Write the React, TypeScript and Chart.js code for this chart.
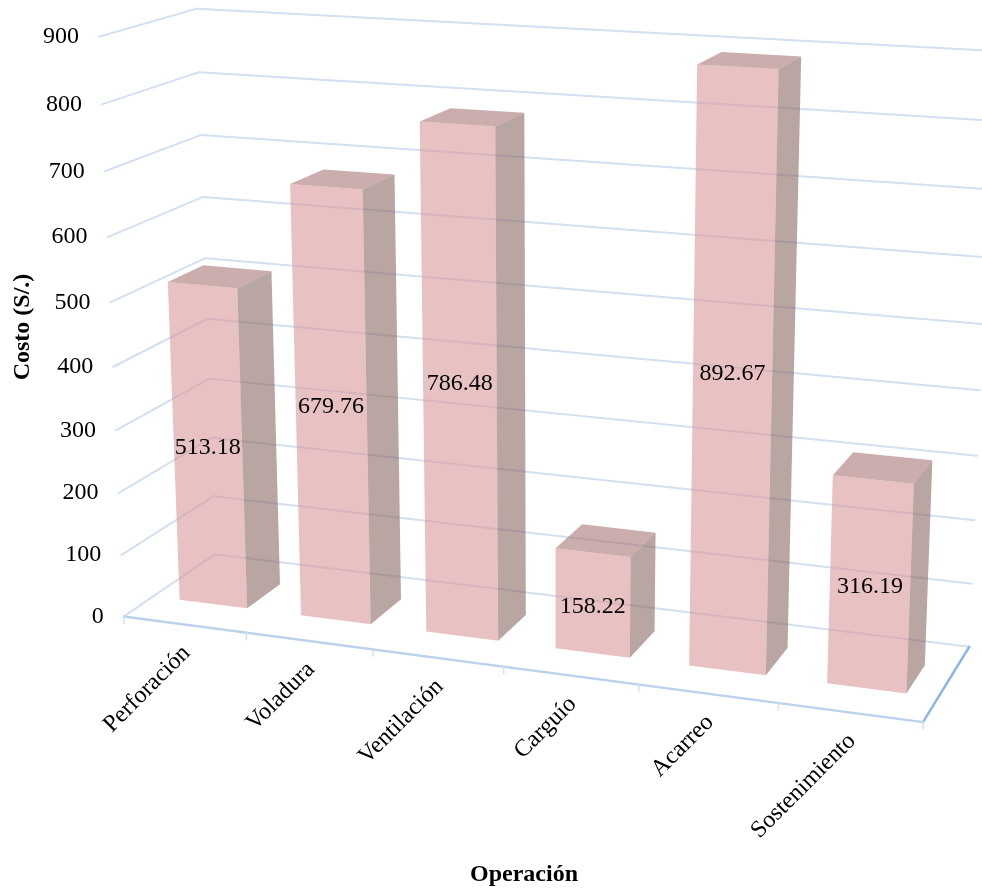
import React, { useEffect, useRef } from "react";
import { Chart, BarController, BarElement, CategoryScale, LinearScale } from "chart.js";

const categories = ["Perforación", "Voladura", "Ventilación", "Carguío", "Acarreo", "Sostenimiento"];
const costValues = [513.18, 679.76, 786.48, 158.22, 892.67, 316.19];
const valueLabels = ["513.18", "679.76", "786.48", "158.22", "892.67", "316.19"];
const axisMax = 900;
const axisStep = 100;

const SERIF = '"Liberation Serif", "Times New Roman", serif';
const FRONT = "rgba(217,152,154,0.6)";
const SIDE = "rgba(138,105,100,0.6)";
const TOP = "rgba(168,118,118,0.6)";
const GRID = "#d3e0f1";
const FLOOR_FRONT = "#bcd2ec";
const FLOOR_RIGHT = "#8fb6e6";

// Box depth within the floor, 0 = front edge, 1 = back wall.
const DEPTH_NEAR = 0.31;
const DEPTH_FAR = 0.69;

// Camera calibration: [u, v, w] in the unit cube and where that corner lands on the canvas.
const cameraAnchors: number[][] = [
  [0, 0, 0, 124, 616], [1, 0, 0, 923, 722], [0, 0, 1, 215, 554], [1, 0, 1, 969, 647],
  [0, 1, 0, 99, 37], [0, 1, 1, 197, 9], [1, 1, 1, 994, 51],
  [1 / 6, 0, 0, 247, 633], [2 / 6, 0, 0, 373, 650], [5 / 6, 0, 0, 778, 703],
  [0, 8 / 9, 1, 199, 72], [0, 7 / 9, 1, 201, 135], [0, 8 / 9, 0, 102, 104], [0, 7 / 9, 0, 105, 171],
  [0, 6 / 9, 0, 107, 237], [1, 1 / 9, 1, 972, 584], [1, 2 / 9, 1, 975, 520], [1, 3 / 9, 1, 977, 455],
];

function solveLinear(A: number[][], b: number[]): number[] {
  const n = b.length;
  const M = A.map((row, i) => [...row, b[i]]);
  for (let c = 0; c < n; c++) {
    let p = c;
    for (let r = c + 1; r < n; r++) if (Math.abs(M[r][c]) > Math.abs(M[p][c])) p = r;
    [M[c], M[p]] = [M[p], M[c]];
    for (let r = 0; r < n; r++) {
      if (r === c) continue;
      const f = M[r][c] / M[c][c];
      for (let k = c; k <= n; k++) M[r][k] -= f * M[c][k];
    }
  }
  return M.map((row, i) => row[n] / row[i]);
}

// Least-squares fit of a 3x4 projective camera (last entry fixed to 1).
function fitCamera(): number[] {
  const rows: number[][] = [];
  const rhs: number[] = [];
  for (const [u, v, w, px, py] of cameraAnchors) {
    const X = px / 1000;
    const Y = py / 1000;
    rows.push([u, v, w, 1, 0, 0, 0, 0, -X * u, -X * v, -X * w]);
    rhs.push(X);
    rows.push([0, 0, 0, 0, u, v, w, 1, -Y * u, -Y * v, -Y * w]);
    rhs.push(Y);
  }
  const n = 11;
  const AtA = Array.from({ length: n }, () => new Array(n).fill(0));
  const Atb = new Array(n).fill(0);
  rows.forEach((r, k) => {
    for (let i = 0; i < n; i++) {
      Atb[i] += r[i] * rhs[k];
      for (let j = 0; j < n; j++) AtA[i][j] += r[i] * r[j];
    }
  });
  return solveLinear(AtA, Atb);
}

const cam = fitCamera();

function project(u: number, v: number, w: number): [number, number] {
  const d = cam[8] * u + cam[9] * v + cam[10] * w + 1;
  return [
    (1000 * (cam[0] * u + cam[1] * v + cam[2] * w + cam[3])) / d,
    (1000 * (cam[4] * u + cam[5] * v + cam[6] * w + cam[7])) / d,
  ];
}

function polygon(ctx: CanvasRenderingContext2D, pts: [number, number][], fill: string) {
  ctx.beginPath();
  pts.forEach(([x, y], i) => (i ? ctx.lineTo(x, y) : ctx.moveTo(x, y)));
  ctx.closePath();
  ctx.fillStyle = fill;
  ctx.fill();
}

function segment(ctx: CanvasRenderingContext2D, a: [number, number], b: [number, number], color: string, width = 2) {
  ctx.beginPath();
  ctx.moveTo(a[0], a[1]);
  ctx.lineTo(b[0], b[1]);
  ctx.strokeStyle = color;
  ctx.lineWidth = width;
  ctx.stroke();
}

// Bar element that extrudes its scale-derived rectangle into a box on the projected floor.
class Box3D extends BarElement {
  static id = "box3d";
  draw(ctx: CanvasRenderingContext2D) {
    const { x, y, base, width } = this as any;
    const area = (Chart.getChart(ctx.canvas) as any).chartArea;
    const u0 = (x - width / 2 - area.left) / area.width;
    const u1 = (x + width / 2 - area.left) / area.width;
    const v0 = (area.bottom - base) / area.height;
    const v1 = (area.bottom - y) / area.height;
    const n = DEPTH_NEAR;
    const f = DEPTH_FAR;
    ctx.save();
    polygon(ctx, [project(u0, v0, n), project(u1, v0, n), project(u1, v1, n), project(u0, v1, n)], FRONT);
    polygon(ctx, [project(u1, v0, n), project(u1, v0, f), project(u1, v1, f), project(u1, v1, n)], SIDE);
    polygon(ctx, [project(u0, v1, n), project(u1, v1, n), project(u1, v1, f), project(u0, v1, f)], TOP);
    ctx.restore();
  }
}

class Bar3DController extends BarController {
  static id = "bar3d";
  static defaults = { ...BarController.defaults, dataElementType: "box3d" };
}

Chart.register(CategoryScale, LinearScale, BarElement, Box3D, BarController, Bar3DController);

// Walls, floor, tick labels and titles, all placed from the chart's scales.
const frame3D = {
  id: "frame3D",
  beforeDatasetsDraw(chart: any) {
    const { ctx, chartArea: area } = chart;
    const xs = chart.scales.x;
    const ys = chart.scales.y;
    ctx.save();
    ctx.lineCap = "round";
    ctx.lineJoin = "round";

    ys.ticks.forEach((t: any) => {
      const v = (area.bottom - ys.getPixelForValue(t.value)) / area.height;
      if (v > 0) {
        segment(ctx, project(0, v, 0), project(0, v, 1), GRID);
      }
      segment(ctx, project(0, v, 1), project(1, v, 1), GRID);
    });

    segment(ctx, project(0, 0, 0), project(0, 0, 1), GRID);
    segment(ctx, project(1, 0, 0), project(1, 0, 1), FLOOR_RIGHT, 2.5);
    segment(ctx, project(0, 0, 0), project(1, 0, 0), FLOOR_FRONT, 2.5);

    const n = xs.getLabels().length;
    for (let i = 0; i <= n; i++) {
      const [tx, ty] = project(i / n, 0, 0);
      segment(ctx, [tx, ty], [tx, ty + 7], GRID, 1.5);
    }

    ctx.fillStyle = "#000";
    ctx.font = `24px ${SERIF}`;
    ctx.textAlign = "right";
    ctx.textBaseline = "middle";
    ys.ticks.forEach((t: any) => {
      const v = (area.bottom - ys.getPixelForValue(t.value)) / area.height;
      const [px, py] = project(0, v, 0);
      ctx.fillText(String(t.value), px - 20, py);
    });

    xs.getLabels().forEach((label: string, i: number) => {
      const u = (xs.getPixelForValue(i) - area.left) / area.width;
      const [px, py] = project(u, 0, 0);
      ctx.save();
      ctx.translate(px + 2, py + 25);
      ctx.rotate(-Math.PI / 4);
      ctx.fillText(label, 0, 0);
      ctx.restore();
    });

    ctx.font = `bold 24px ${SERIF}`;
    ctx.textAlign = "center";
    ctx.fillText("Operación", 524, 875);
    ctx.save();
    ctx.translate(23, 327);
    ctx.rotate(-Math.PI / 2);
    ctx.fillText("Costo (S/.)", 0, 0);
    ctx.restore();
    ctx.restore();
  },
  afterDatasetsDraw(chart: any) {
    const { ctx, chartArea: area } = chart;
    const bars = chart.getDatasetMeta(0).data;
    ctx.save();
    ctx.fillStyle = "#000";
    ctx.font = `24px ${SERIF}`;
    ctx.textAlign = "center";
    ctx.textBaseline = "middle";
    bars.forEach((bar: any, i: number) => {
      const u = (bar.x - area.left) / area.width;
      // Labels sit a little above the middle of each front face.
      const labelY = bar.base + 0.515 * (bar.y - bar.base);
      const v = (area.bottom - labelY) / area.height;
      const [px, py] = project(u, v, DEPTH_NEAR);
      ctx.fillText(valueLabels[i], px, py + 5);
    });
    ctx.restore();
  },
};

export default function App() {
  const ref = useRef<HTMLCanvasElement>(null);
  useEffect(() => {
    const chart = new Chart(ref.current as HTMLCanvasElement, {
      type: "bar3d" as any,
      data: {
        labels: categories,
        datasets: [{ label: "Costo (S/.)", data: costValues, barPercentage: 1, categoryPercentage: 0.56 }],
      },
      options: {
        animation: false,
        responsive: false,
        events: [],
        layout: { padding: 0 },
        scales: {
          x: { type: "category", display: false },
          y: { type: "linear", display: false, min: 0, max: axisMax, ticks: { stepSize: axisStep } },
        },
        plugins: { legend: { display: false }, tooltip: { enabled: false } },
      },
      plugins: [frame3D],
    } as any);
    return () => chart.destroy();
  }, []);
  return (
    <canvas
      ref={ref}
      width={982}
      height={892}
      style={{ position: "absolute", left: 0, top: 0, display: "block", background: "#fff" }}
    />
  );
}
